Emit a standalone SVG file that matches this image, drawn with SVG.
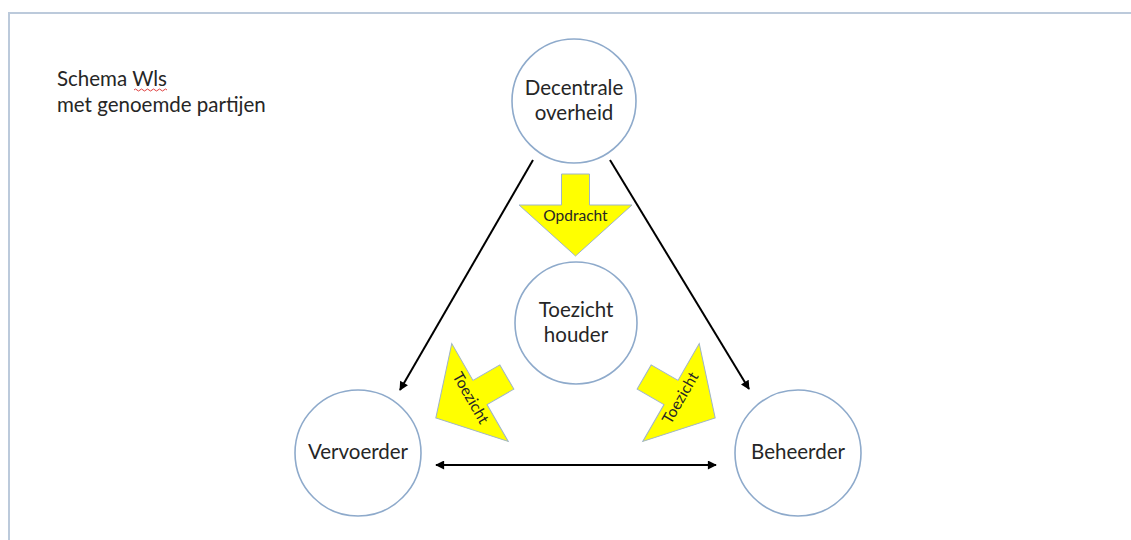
<svg xmlns="http://www.w3.org/2000/svg" width="1131" height="540" viewBox="0 0 1131 540">
<style>
.node{fill:#fff;stroke:#8eaacb;stroke-width:1.6}
.lbl{font-family:Lato,"Liberation Sans",sans-serif;font-size:20.5px;fill:#262626;text-anchor:middle}
.title{font-family:Lato,"Liberation Sans",sans-serif;font-size:20.5px;fill:#262626}
.conn{stroke:#000;stroke-width:2;fill:none}
.blk{fill:#ffff00;stroke:#9fb4c9;stroke-width:1}
.blabel{font-family:Lato,"Liberation Sans",sans-serif;font-size:15.5px;fill:#262626;text-anchor:middle}
</style>
<defs>
<marker id="ah" viewBox="0 0 10 10" refX="9" refY="5" markerWidth="10" markerHeight="9" markerUnits="userSpaceOnUse" orient="auto-start-reverse">
<path d="M0,0 L10,5 L0,10 z" fill="#000"/>
</marker>
<path id="blockArrow" d="M-14,-31 L14,-31 L14,0 L56.5,0 L0,51 L-56.5,0 L-14,0 Z"/>
</defs>
<rect width="1131" height="540" fill="#fff"/>
<path d="M9,540 L9,13 L1131,13" fill="none" stroke="#bccadb" stroke-width="2"/>
<g id="title">
<text class="title" x="57" y="86">Schema Wls</text>
<text class="title" x="57" y="112">met genoemde partijen</text>
<path d="M134,90 q1.5,-2 3,0 t3,0 t3,0 t3,0 t3,0 t3,0 t3,0 t3,0 t3,0 t3,0 t3,0" fill="none" stroke="#e04040" stroke-width="1"/>
</g>
<g id="connectors">
<line class="conn" x1="533" y1="160" x2="400" y2="390" marker-end="url(#ah)"/>
<line class="conn" x1="610" y1="160" x2="749" y2="389" marker-end="url(#ah)"/>
<line class="conn" x1="436" y1="465" x2="716" y2="465" marker-start="url(#ah)" marker-end="url(#ah)"/>
</g>
<g id="node-decentrale">
<circle class="node" cx="574" cy="101" r="62"/>
<text class="lbl" x="574" y="95">Decentrale</text>
<text class="lbl" x="574" y="120">overheid</text>
</g>
<g id="node-toezichthouder">
<circle class="node" cx="576" cy="323" r="61"/>
<text class="lbl" x="576" y="317">Toezicht</text>
<text class="lbl" x="576" y="342">houder</text>
</g>
<g id="node-vervoerder">
<circle class="node" cx="358" cy="453" r="63"/>
<text class="lbl" x="358" y="459">Vervoerder</text>
</g>
<g id="node-beheerder">
<circle class="node" cx="798" cy="453" r="63"/>
<text class="lbl" x="798" y="459">Beheerder</text>
</g>
<g id="arrow-opdracht" transform="translate(575.5,205)">
<use href="#blockArrow" class="blk"/>
<text class="blabel" x="0" y="16">Opdracht</text>
</g>
<g id="arrow-toezicht-left" transform="translate(480,392.5) rotate(60)">
<use href="#blockArrow" class="blk"/>
<text class="blabel" x="0" y="16">Toezicht</text>
</g>
<g id="arrow-toezicht-right" transform="translate(671,392.5) rotate(-60)">
<use href="#blockArrow" class="blk"/>
<text class="blabel" x="0" y="16">Toezicht</text>
</g>
</svg>
